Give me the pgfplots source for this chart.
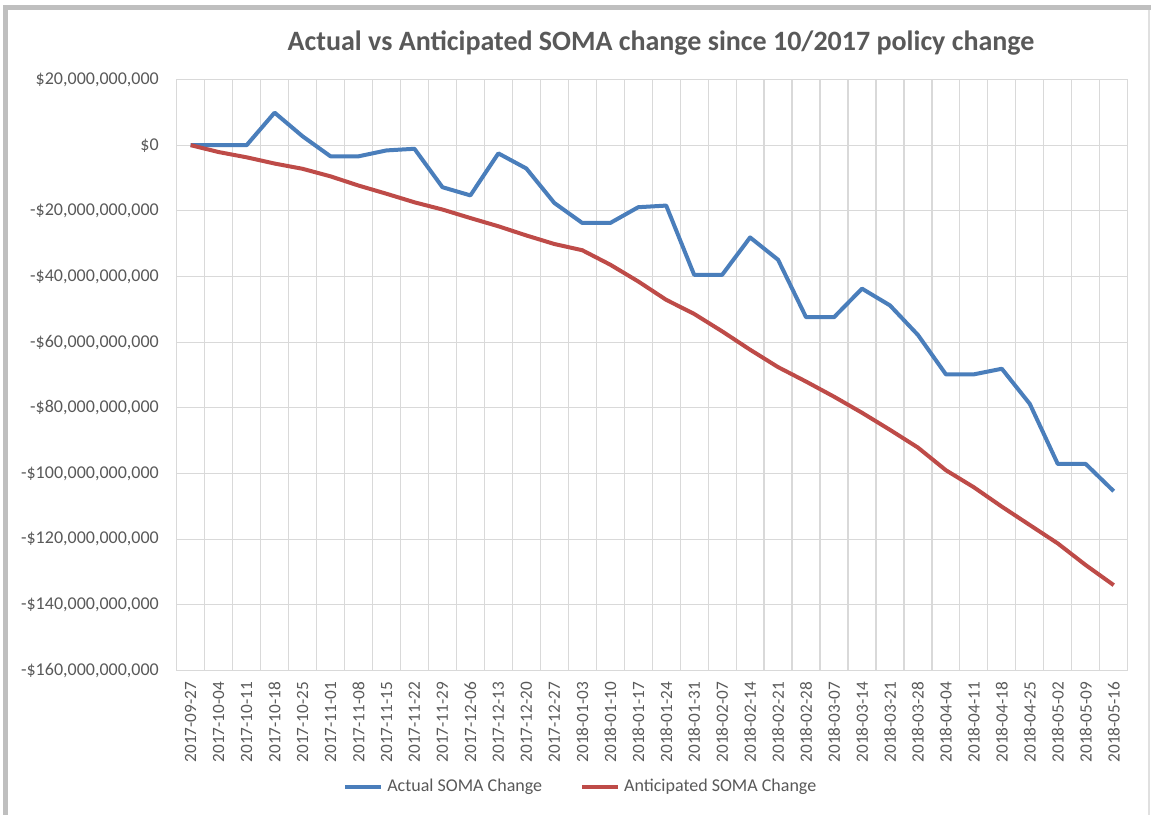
\documentclass[border=0pt]{standalone}
\usepackage{pgfplots}
\pgfplotsset{compat=1.18}
\usepackage{pgfplotstable}
\usepackage{fontspec}
\setmainfont{Carlito}
\definecolor{blueS}{HTML}{4A7EBB}
\definecolor{redS}{HTML}{BE4B48}
\definecolor{gridc}{HTML}{D9D9D9}
\definecolor{txt}{HTML}{595959}
\definecolor{frame}{HTML}{BFBFBF}

\pgfplotstableread{
i actual anticipated
0 0 0
1 0 -2.1
2 0 -3.7
3 9.9 -5.6
4 2.7 -7.2
5 -3.4 -9.5
6 -3.4 -12.3
7 -1.6 -14.8
8 -1.1 -17.4
9 -12.8 -19.6
10 -15.3 -22.2
11 -2.5 -24.7
12 -7.1 -27.5
13 -17.6 -30.1
14 -23.7 -32.0
15 -23.7 -36.4
16 -18.9 -41.5
17 -18.4 -47.1
18 -39.5 -51.4
19 -39.5 -56.7
20 -28.1 -62.3
21 -34.9 -67.6
22 -52.4 -72.0
23 -52.4 -76.6
24 -43.7 -81.5
25 -48.8 -86.7
26 -57.8 -92.1
27 -69.8 -99.0
28 -69.8 -104.2
29 -68.1 -110.1
30 -78.8 -115.7
31 -97.1 -121.3
32 -97.1 -127.9
33 -105.4 -134.0
}\soma

\begin{document}
\begin{tikzpicture}[x=1pt,y=1pt]
\useasboundingbox (0,0) rectangle (575.5,407.5);
\fill[white] (0,0) rectangle (575.5,407.5);
\fill[frame] (1.5,0) rectangle (4,405);
\fill[frame] (1.5,402.5) rectangle (575.5,405);
\draw[black!12, line width=0.6pt] (574.5,0) -- (574.5,402.5);
\node[font=\bfseries\fontsize{14}{16}\selectfont, text=txt] at (330.5,386) {Actual vs Anticipated SOMA change since 10/2017 policy change};
\begin{axis}[
  at={(88.35pt,72.25pt)}, anchor=south west,
  scale only axis, width=475.5pt, height=295.5pt,
  xmin=-0.5, xmax=33.5, ymin=-160, ymax=20,
  axis line style={draw=gridc, line width=0.6pt},
  xtick={0,1,2,3,4,5,6,7,8,9,10,11,12,13,14,15,16,17,18,19,20,21,22,23,24,25,26,27,28,29,30,31,32,33},
  xticklabels={2017-09-27,2017-10-04,2017-10-11,2017-10-18,2017-10-25,2017-11-01,2017-11-08,2017-11-15,2017-11-22,2017-11-29,2017-12-06,2017-12-13,2017-12-20,2017-12-27,2018-01-03,2018-01-10,2018-01-17,2018-01-24,2018-01-31,2018-02-07,2018-02-14,2018-02-21,2018-02-28,2018-03-07,2018-03-14,2018-03-21,2018-03-28,2018-04-04,2018-04-11,2018-04-18,2018-04-25,2018-05-02,2018-05-09,2018-05-16},
  minor xtick={0.5,1.5,2.5,3.5,4.5,5.5,6.5,7.5,8.5,9.5,10.5,11.5,12.5,13.5,14.5,15.5,16.5,17.5,18.5,19.5,20.5,21.5,22.5,23.5,24.5,25.5,26.5,27.5,28.5,29.5,30.5,31.5,32.5},
  xminorgrids, ymajorgrids,
  major tick length=0pt, minor tick length=0pt,
  major grid style={draw=gridc, line width=0.6pt},
  minor grid style={draw=gridc, line width=0.6pt},
  ytick={-160,-140,-120,-100,-80,-60,-40,-20,0,20},
  yticklabels={-\$160{,}000{,}000{,}000,-\$140{,}000{,}000{,}000,-\$120{,}000{,}000{,}000,-\$100{,}000{,}000{,}000,-\$80{,}000{,}000{,}000,-\$60{,}000{,}000{,}000,-\$40{,}000{,}000{,}000,-\$20{,}000{,}000{,}000,\$0,\$20{,}000{,}000{,}000},
  /pgf/number format/assume math mode=true,
  xticklabel style={rotate=90, anchor=east, inner sep=0pt, xshift=-5.5pt, font=\fontsize{8.6}{10}\selectfont, text=txt},
  yticklabel style={anchor=east, inner sep=0pt, xshift=-8.8pt, font=\fontsize{9}{10}\selectfont, text=txt},
  legend columns=2,
  legend style={at={(rel axis cs:0.426,-0.197)}, anchor=center, draw=none, fill=none,
    font=\fontsize{9}{10}\selectfont, text=txt,
    /tikz/every even column/.append style={column sep=17pt}},
  legend image code/.code={\draw[#1, line width=2pt] (0pt,0pt) -- (18pt,0pt);},
  clip=false,
]
\addplot[blueS, line width=2pt, line join=round] table[x=i, y=actual] {\soma};
\addlegendentry{Actual SOMA Change}
\addplot[redS, line width=2pt, line join=round] table[x=i, y=anticipated] {\soma};
\addlegendentry{Anticipated SOMA Change}
\end{axis}
\end{tikzpicture}
\end{document}
